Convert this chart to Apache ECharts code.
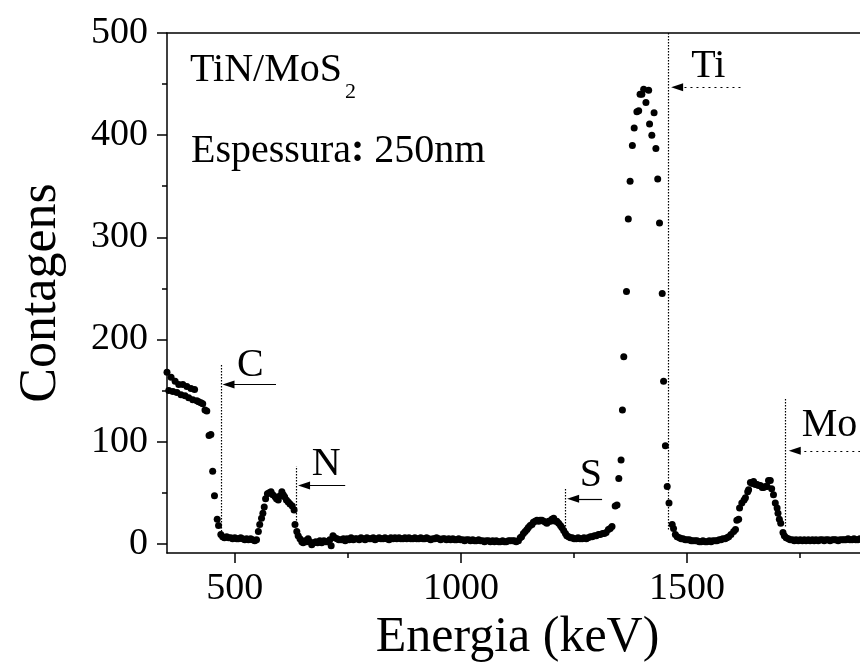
<!DOCTYPE html>
<html>
<head>
<meta charset="utf-8">
<script src="https://cdn.jsdelivr.net/npm/echarts@6/dist/echarts.min.js"></script>
<style>
html, body { margin: 0; padding: 0; background: #fff; }
#rbsChart { width: 860px; height: 671px; }
</style>
</head>
<body>
<div id="rbsChart"></div>
<script>
// espectro RBS  [energia keV, contagens]
var carbonEdge = [[350,168],[354,150],[359,163],[363,149],[368,159],[372,148],[376,156],[381,146],[385,156],[390,145],[394,154],[398,143],[403,152],[407,141],[411,151],[416,140],[420,139],[425,138],[429,137],[434,131],[438,130],[443,106],[447,107],[451,71],[455,47],[461,24],[464,18],[469,9]]
var afterCarbon = [[473,7],[477,6],[482,7],[486,6],[491,6],[495,5],[500,6],[504,5],[508,5],[513,6],[517,5],[522,4],[526,5],[530,4],[535,5],[539,4],[544,3],[548,4]]
var nitrogenPeak = [[552,12],[555,19],[559,25],[562,30],[565,36],[568,44],[572,49],[576,50],[580,51],[584,48],[589,46],[592,44],[596,43],[600,47],[604,51],[607,48],[610,46],[614,43],[618,41],[622,39],[627,37],[631,33],[633,19],[637,12],[640,8],[644,5]]
var afterNitrogen = [[648,2],[651,1],[655,3],[659,2],[662,5],[666,2],[670,-1],[675,1],[679,2],[683,1],[688,3],[692,1],[697,3],[701,2],[705,2],[710,4],[713,-2],[717,8],[721,6],[726,5],[730,4]]
var plateau = [[735,4],[740,5],[744,3],[748,5],[753,4],[757,6],[762,4],[766,5],[770,5],[775,4],[779,6],[784,5],[788,4],[792,6],[797,5],[801,5],[806,6],[810,4],[814,5],[819,6],[823,5],[828,5],[832,6],[836,5],[841,4],[845,6],[850,5],[854,6],[858,5],[863,6],[867,5],[872,5],[876,6],[880,5],[885,6],[889,5],[894,5],[898,6],[902,5],[907,5],[911,6],[916,5],[920,5],[924,6],[929,5],[933,4],[938,5],[942,5],[946,6],[951,5],[955,4],[960,5],[964,5],[968,4],[973,5],[977,4],[982,5],[986,4],[990,4],[995,5],[999,4],[1004,4],[1008,3],[1012,4],[1017,4],[1021,3],[1026,4],[1030,3],[1034,3],[1039,4],[1043,3],[1048,3],[1052,2],[1056,3],[1061,3],[1065,2],[1070,3],[1074,2],[1078,3],[1083,2],[1087,2],[1092,3],[1096,2],[1100,2],[1105,3],[1109,3],[1114,3],[1118,3],[1122,2],[1127,3]]
var sulfurPeak = [[1131,6],[1134,7],[1138,10],[1142,12],[1146,14],[1149,16],[1153,18],[1157,19],[1160,21],[1164,22],[1168,23],[1172,22],[1175,23],[1179,23],[1183,22],[1187,21],[1190,20],[1194,22],[1198,22],[1201,24],[1205,25],[1209,22],[1212,22],[1216,20],[1220,18],[1223,16],[1227,13],[1231,10],[1234,8],[1238,7],[1242,6]]
var beforeTitanium = [[1246,6],[1250,5],[1255,5],[1259,6],[1263,5],[1268,5],[1272,6],[1277,5],[1281,6],[1286,7],[1290,7],[1295,8],[1299,8],[1304,9],[1308,9],[1313,10],[1317,10],[1321,11],[1326,14],[1330,15],[1334,17]]
var titaniumPeak = [[1341,37],[1345,38],[1349,64],[1354,82],[1357,131],[1360,183],[1366,247],[1370,318],[1374,355],[1379,390],[1383,407],[1389,423],[1393,424],[1396,440],[1400,440],[1404,445],[1409,432],[1415,444],[1417,411],[1422,400],[1427,422],[1431,387],[1435,357],[1439,314],[1445,245],[1448,159],[1452,96],[1456,56],[1460,40],[1467,19],[1470,15],[1474,9]]
var beforeMolybdenum = [[1478,7],[1483,6],[1487,5],[1491,5],[1496,4],[1500,4],[1505,4],[1509,3],[1513,3],[1518,3],[1522,3],[1527,2],[1531,2],[1535,3],[1540,2],[1544,2],[1549,3],[1553,2],[1557,3],[1562,3],[1566,3],[1571,4],[1575,4],[1579,5],[1584,5],[1588,6],[1592,7],[1597,9]]
var molybdenumPeak = [[1603,12],[1607,14],[1610,23],[1614,24],[1616,35],[1621,40],[1626,43],[1629,45],[1634,51],[1636,53],[1640,60],[1644,59],[1647,61],[1651,58],[1655,58],[1658,57],[1662,57],[1666,55],[1669,55],[1673,56],[1677,56],[1680,62],[1684,62],[1687,54],[1691,48],[1695,40],[1699,35],[1701,30],[1704,24],[1707,20],[1712,11],[1715,8],[1719,6],[1724,5]]
var tailRegion = [[1728,4],[1733,4],[1737,3],[1741,4],[1746,3],[1750,4],[1755,3],[1759,4],[1763,3],[1768,4],[1772,3],[1777,4],[1781,3],[1785,4],[1790,3],[1794,4],[1799,4],[1803,3],[1807,4],[1812,4],[1816,3],[1821,4],[1825,4],[1829,4],[1834,3],[1838,4],[1843,4],[1847,4],[1851,4],[1856,5],[1860,4],[1865,4],[1869,5],[1873,4],[1878,4],[1882,5],[1887,4],[1891,4],[1895,5]]

var xTicks = [500, 1000, 1500]
var xMinorTicks = [750, 1250, 1750]
var yTicks = [0, 100, 200, 300, 400, 500]
var yMinorTicks = [50, 150, 250, 350, 450]

// bordas cinematicas
var edgeNames = ['C', 'N', 'S', 'Ti', 'Mo']
var edgeEnergy = [469, 635, 1231, 1458, 1717]

var spectrum = [].concat(carbonEdge, afterCarbon, nitrogenPeak, afterNitrogen, plateau,
    sulfurPeak, beforeTitanium, titaniumPeak, beforeMolybdenum, molybdenumPeak, tailRegion)

var serif = '"Liberation Serif", "Times New Roman", Times, serif'

// geometria das anotacoes (linha vertical, seta, letra)
var edgeMarks = [
    { lo: 12, hi: 175, arrowY: 156, tail: 591, tip: 486, dotted: false, label: [534, 175] },
    { lo: 17, hi: 76, arrowY: 57, tail: 744, tip: 653, dotted: false, label: [702, 78] },
    { lo: 14, hi: 54, arrowY: 44, tail: 1312, tip: 1248, dotted: false, label: [1287, 67] },
    { lo: 14, hi: 500, arrowY: 447, tail: 1618, tip: 1478, dotted: true, label: [1547, 467] },
    { lo: 17, hi: 143, arrowY: 91, tail: 1883, tip: 1738, dotted: true, label: [1815, 116] }
]

var lineData = []
var labelData = []
edgeMarks.forEach(function (m, i) {
    lineData.push([
        { coord: [edgeEnergy[i], m.lo], lineStyle: { type: [1.5, 1.5], width: 1.2, color: '#000' } },
        { coord: [edgeEnergy[i], m.hi] }
    ])
    lineData.push([
        { coord: [m.tail, m.arrowY], symbol: 'none',
          lineStyle: { type: m.dotted ? [2, 4] : 'solid', width: 1.2, color: '#000' } },
        { coord: [m.tip, m.arrowY], symbol: 'triangle', symbolSize: [8, 12] }
    ])
    labelData.push({
        coord: m.label, value: edgeNames[i],
        label: { formatter: edgeNames[i] }
    })
})

// largura do texto para posicionar o indice do MoS2
var ctx = document.createElement('canvas').getContext('2d')
ctx.font = '40px ' + serif
var formulaWidth = ctx.measureText('TiN/MoS').width

var axisStroke = { color: '#000', width: 1.5 }
var plainNumber = function (v) { return String(v) }

var rbsChart = echarts.init(document.getElementById('rbsChart'), null, { renderer: 'canvas' })
rbsChart.setOption({
    animation: false,
    backgroundColor: '#fff',
    grid: { left: 167, top: 33, width: 701, height: 520, containLabel: false, outerBoundsMode: 'none' },
    xAxis: [
        {
            type: 'value', min: 350, max: 1900, position: 'bottom',
            axisLine: { show: true, onZero: false, lineStyle: axisStroke },
            axisTick: { show: true, length: 10, customValues: xTicks, lineStyle: axisStroke },
            axisLabel: { customValues: xTicks, formatter: plainNumber, margin: 17, fontSize: 38, fontFamily: serif, color: '#000' },
            splitLine: { show: false },
            name: 'Energia (keV)', nameLocation: 'middle', nameGap: 45,
            nameTextStyle: { fontSize: 50, fontFamily: serif, color: '#000' }
        },
        {
            type: 'value', min: 350, max: 1900, position: 'bottom',
            axisLine: { show: false, onZero: false },
            axisTick: { show: true, length: 5, customValues: xMinorTicks, lineStyle: axisStroke },
            axisLabel: { show: false },
            splitLine: { show: false }
        },
        {
            type: 'value', min: 350, max: 1900, position: 'top',
            axisLine: { show: true, onZero: false, lineStyle: axisStroke },
            axisTick: { show: false },
            axisLabel: { show: false },
            splitLine: { show: false }
        }
    ],
    yAxis: [
        {
            type: 'value', min: -9, max: 500, position: 'left',
            axisLine: { show: true, onZero: false, lineStyle: axisStroke },
            axisTick: { show: true, length: 10, customValues: yTicks, lineStyle: axisStroke },
            axisLabel: { customValues: yTicks, formatter: plainNumber, margin: 19, fontSize: 38, fontFamily: serif, color: '#000' },
            splitLine: { show: false },
            name: 'Contagens', nameLocation: 'middle', nameGap: 100, nameRotate: 90,
            nameTextStyle: { fontSize: 52, fontFamily: serif, color: '#000' }
        },
        {
            type: 'value', min: -9, max: 500, position: 'left',
            axisLine: { show: false, onZero: false },
            axisTick: { show: true, length: 5, customValues: yMinorTicks, lineStyle: axisStroke },
            axisLabel: { show: false },
            splitLine: { show: false }
        }
    ],
    graphic: [
        { type: 'text', x: 190, y: 70, style: { text: 'TiN/MoS', font: '40px ' + serif, fill: '#000', verticalAlign: 'middle' } },
        { type: 'text', x: 190 + formulaWidth + 3, y: 92, style: { text: '2', font: '22px ' + serif, fill: '#000', verticalAlign: 'middle' } },
        {
            type: 'text', x: 191, y: 151,
            style: {
                text: 'Espessura{b|:} 250nm', font: '40px ' + serif, fill: '#000', verticalAlign: 'middle',
                rich: { b: { fontWeight: 'bold', fontSize: 40, fontFamily: serif, fill: '#000' } }
            }
        }
    ],
    series: [
        {
            name: 'RBS',
            type: 'scatter',
            xAxisIndex: 0,
            yAxisIndex: 0,
            symbol: 'circle',
            symbolSize: 7,
            itemStyle: { color: '#000', opacity: 1 },
            data: spectrum,
            markLine: {
                silent: true,
                animation: false,
                symbol: ['none', 'none'],
                label: { show: false },
                emphasis: { disabled: true },
                lineStyle: { color: '#000', width: 1 },
                data: lineData
            },
            markPoint: {
                silent: true,
                animation: false,
                symbol: 'rect',
                symbolSize: 1,
                itemStyle: { color: 'rgba(0,0,0,0)' },
                label: { show: true, position: 'inside', fontSize: 40, fontFamily: serif, color: '#000' },
                data: labelData
            }
        }
    ]
})
</script>
</body>
</html>
